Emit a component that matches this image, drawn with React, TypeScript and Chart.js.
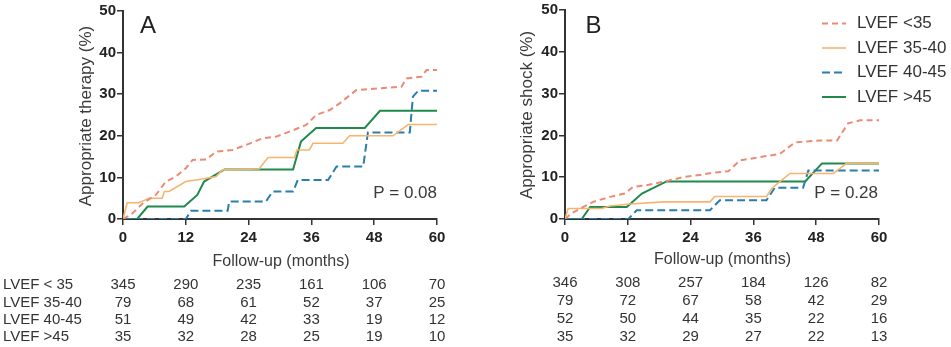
import { useEffect, useRef } from "react";
import { Chart, registerables } from "chart.js";
Chart.register(...registerables);

const FONT = "'Liberation Sans', Arial, Helvetica, sans-serif";

// x tick months / risk table time points
const riskMonths = [0, 12, 24, 36, 48, 60];
const tableLabels = ["LVEF < 35", "LVEF 35-40", "LVEF 40-45", "LVEF >45"];
const legendLabels = ["LVEF <35", "LVEF 35-40", "LVEF 40-45", "LVEF >45"];

// Panel A – appropriate therapy (%) : [month, percent]
const therapyLt35 = [[0,0],[1.5,1],[3.8,3.8],[6.3,5.8],[8.2,9],[10.1,10.2],[12,12.2],[13.3,14.2],[15.9,14.3],[17.8,16.2],[20.9,16.6],[23.5,17.8],[26.7,19.4],[29.3,19.8],[31.8,21],[35,22.6],[36.9,25],[39.5,26.2],[41.4,27.8],[44.6,31],[49.1,31.4],[53.2,31.8],[54.2,33.8],[57,34.2],[58,35.8],[60,35.8]];
const therapy3540 = [[0,0],[0.8,3.9],[3,3.9],[5,5],[7.5,5],[7.9,6.6],[8.8,6.6],[12,9],[14.6,9.5],[17.8,10.2],[19,11.8],[26,12],[27.7,14.8],[32.8,14.8],[33.2,16.6],[35.6,16.6],[36.3,18.2],[42,18.2],[43.3,20],[51.6,20],[54.5,22.7],[60,22.7]];
const therapy4045 = [[0,0],[12,0],[13,2],[20,2],[20.3,4.2],[27.3,4.2],[28.6,6.6],[32.5,6.6],[33.4,9.4],[39.2,9.4],[40.8,12.6],[45.9,12.6],[46.8,20.8],[54.8,20.8],[55.4,29.4],[56.4,30.8],[60,30.8]];
const therapyGt45 = [[0,0],[2.7,0],[4.7,3],[11.7,3],[14.2,5.8],[15.5,9],[19.4,11.9],[32.5,11.9],[34,18.6],[36.9,21.9],[46.2,21.9],[49.1,26],[60,26]];

// Panel B – appropriate shock (%)
const shockLt35 = [[0,0],[1.3,1.4],[2.9,2.5],[5.4,4.1],[8.6,5.3],[11.5,6.1],[13,7.7],[15.6,8.1],[18.8,8.9],[22.9,10.1],[25.8,10.5],[28.3,11.1],[31.2,11.4],[33.4,14],[37.3,14.8],[41.1,15.6],[43.9,18.3],[48.7,18.8],[52,18.8],[54.1,22.9],[56.4,23.6],[60,23.6]];
const shock3540 = [[0,0],[0.6,2.5],[7,2.5],[8.6,3.1],[12.4,3.6],[18.8,4.1],[27.7,4.1],[28.6,5.4],[38.5,5.4],[39.5,7.3],[41.1,9],[43,10.9],[51.3,10.9],[53.8,13.3],[60,13.3]];
const shock4045 = [[0,0],[12.1,0],[13.7,2.1],[27.7,2.1],[29.6,4.5],[38.5,4.5],[40.1,7.5],[45.5,7.5],[46.5,11.6],[60,11.6]];
const shockGt45 = [[0,0],[3.2,0],[4.8,2.9],[11.8,2.9],[14.7,6.1],[19.4,9],[45.9,9],[49.1,13.3],[60,13.3]];

// Numbers at risk
const riskA = [
  [345, 290, 235, 161, 106, 70],
  [79, 68, 61, 52, 37, 25],
  [51, 49, 42, 33, 19, 12],
  [35, 32, 28, 25, 19, 10],
];
const riskB = [
  [346, 308, 257, 184, 126, 82],
  [79, 72, 67, 58, 42, 29],
  [52, 50, 44, 35, 22, 16],
  [35, 32, 29, 27, 22, 13],
];

const colors = ["#EC8B73", "#F6B46E", "#2A7DAD", "#1F8A4C"];
const dashes = [[6, 4], [], [8, 4], []];
const widths = [2, 1.6, 2, 2];

function toPts(a: number[][]) {
  return a.map(([x, y]) => ({ x, y }));
}

type PanelCfg = {
  width: number;
  leftAxis: number;
  right: number;
  top: number;
  series: number[][][];
  risk: number[][];
  letter: string;
  letterX: number;
  yTitle: string;
  yTitleX: number;
  yTitleY: number;
  pText: string;
  pX: number;
  pY: number;
  xTitleX: number;
  xTitleY: number;
  rowYs: number[];
  showRowLabels: boolean;
  showLegend: boolean;
};

function Panel({ cfg, left }: { cfg: PanelCfg; left: number }) {
  const ref = useRef<HTMLCanvasElement | null>(null);
  useEffect(() => {
    const canvas = ref.current!;
    const extras = {
      id: "extras",
      afterDraw(chart: any) {
        const ctx = chart.ctx as CanvasRenderingContext2D;
        const xs = chart.scales.x;
        ctx.save();
        // panel letter
        ctx.fillStyle = "#222";
        ctx.font = `24px ${FONT}`;
        ctx.textAlign = "center";
        ctx.textBaseline = "alphabetic";
        ctx.fillText(cfg.letter, cfg.letterX, 33);
        // y title
        ctx.save();
        ctx.translate(cfg.yTitleX, cfg.yTitleY);
        ctx.rotate(-Math.PI / 2);
        ctx.font = `17px ${FONT}`;
        ctx.fillStyle = "#3a3a3a";
        ctx.textBaseline = "middle";
        ctx.textAlign = "center";
        ctx.fillText(cfg.yTitle, 0, 0);
        ctx.restore();
        // x title
        ctx.font = `16px ${FONT}`;
        ctx.fillStyle = "#3a3a3a";
        ctx.textAlign = "center";
        ctx.textBaseline = "middle";
        ctx.fillText("Follow-up (months)", cfg.xTitleX, cfg.xTitleY);
        // p value
        ctx.font = `17px ${FONT}`;
        ctx.textAlign = "right";
        ctx.fillText(cfg.pText, cfg.pX, cfg.pY);
        // risk table
        ctx.font = `15px ${FONT}`;
        ctx.fillStyle = "#333";
        cfg.risk.forEach((row, i) => {
          const y = cfg.rowYs[i];
          if (cfg.showRowLabels) {
            ctx.textAlign = "left";
            ctx.fillText(tableLabels[i], 3, y);
          }
          ctx.textAlign = "center";
          row.forEach((v, j) => {
            ctx.fillText(String(v), xs.getPixelForValue(riskMonths[j]), y);
          });
        });
        // legend
        if (cfg.showLegend) {
          const rows = [23.5, 48, 72.5, 97];
          legendLabels.forEach((lab, i) => {
            ctx.beginPath();
            ctx.strokeStyle = colors[i];
            ctx.lineWidth = widths[i];
            ctx.setLineDash(dashes[i]);
            ctx.moveTo(347, rows[i]);
            ctx.lineTo(371, rows[i]);
            ctx.stroke();
            ctx.setLineDash([]);
            ctx.font = `17px ${FONT}`;
            ctx.fillStyle = "#333";
            ctx.textAlign = "left";
            ctx.textBaseline = "middle";
            ctx.fillText(lab, 382, rows[i]);
          });
        }
        ctx.restore();
      },
    };
    const chart = new Chart(canvas, {
      type: "line",
      data: {
        datasets: cfg.series.map((s, i) => ({
          label: legendLabels[i],
          data: toPts(s),
          borderColor: colors[i],
          backgroundColor: colors[i],
          borderWidth: widths[i],
          borderDash: dashes[i],
          pointRadius: 0,
          tension: 0,
          fill: false,
        })),
      },
      options: {
        responsive: false,
        animation: false,
        devicePixelRatio: 1,
        layout: { padding: { left: 0, right: cfg.width - cfg.right, top: cfg.top, bottom: 0 } },
        plugins: { legend: { display: false }, tooltip: { enabled: false } },
        scales: {
          x: {
            type: "linear",
            min: 0,
            max: 60,
            afterFit: (s: any) => { s.height = 347 - 219; },
            afterBuildTicks: (s: any) => { s.ticks = riskMonths.map((v) => ({ value: v })); },
            ticks: { font: { family: FONT, size: 15, weight: "bold" }, color: "#222", padding: 4, maxRotation: 0 },
            grid: { drawOnChartArea: false, drawTicks: true, tickLength: 6, color: "#333", lineWidth: 1.5 },
            border: { display: true, color: "#333", width: 2 },
          },
          y: {
            min: 0,
            max: 50,
            afterFit: (s: any) => { s.width = cfg.leftAxis; },
            ticks: { stepSize: 10, font: { family: FONT, size: 15, weight: "bold" }, color: "#222", padding: 1 },
            grid: { drawOnChartArea: false, drawTicks: true, tickLength: 6, color: "#333", lineWidth: 1.5 },
            border: { display: true, color: "#333", width: 2 },
          },
        },
      },
      plugins: [extras],
    } as any);
    return () => chart.destroy();
  }, [cfg]);
  return (
    <canvas
      ref={ref}
      width={cfg.width}
      height={347}
      style={{ position: "absolute", left, top: 0, width: cfg.width, height: 347 }}
    />
  );
}

const panelA: PanelCfg = {
  width: 475,
  leftAxis: 123,
  right: 437,
  top: 11,
  series: [therapyLt35, therapy3540, therapy4045, therapyGt45],
  risk: riskA,
  letter: "A",
  letterX: 148,
  yTitle: "Appropriate therapy (%)",
  yTitleX: 86,
  yTitleY: 116,
  pText: "P = 0.08",
  pX: 437,
  pY: 193,
  xTitleX: 281,
  xTitleY: 262,
  rowYs: [285, 302.5, 320, 337],
  showRowLabels: true,
  showLegend: false,
};

const panelB: PanelCfg = {
  width: 476,
  leftAxis: 90,
  right: 404,
  top: 9,
  series: [shockLt35, shock3540, shock4045, shockGt45],
  risk: riskB,
  letter: "B",
  letterX: 118.5,
  yTitle: "Appropriate shock (%)",
  yTitleX: 52,
  yTitleY: 115,
  pText: "P = 0.28",
  pX: 403,
  pY: 193,
  xTitleX: 247.5,
  xTitleY: 260,
  rowYs: [282.5, 300.5, 318.5, 336.5],
  showRowLabels: false,
  showLegend: true,
};

export default function App() {
  return (
    <div style={{ position: "absolute", left: 0, top: 0, width: 951, height: 347, background: "#fff" }}>
      <Panel cfg={panelA} left={0} />
      <Panel cfg={panelB} left={475} />
    </div>
  );
}
